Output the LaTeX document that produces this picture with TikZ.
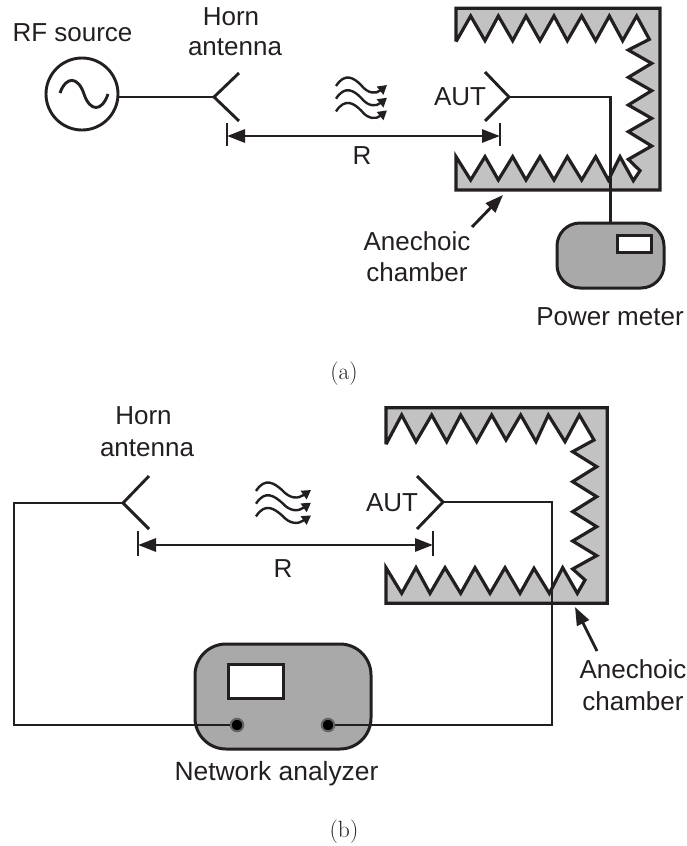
\documentclass[tikz,border=0pt]{standalone}
\usepackage{fontspec}
\setsansfont{Liberation Sans}
\usetikzlibrary{arrows.meta,calc}
\definecolor{ink}{HTML}{231F20}
\definecolor{chgray}{HTML}{C2C2C2}
\definecolor{metergray}{HTML}{A9A9A9}
\tikzset{
  wire/.style={draw=ink,line width=2.9pt,line join=miter},
  horn/.style={wire},
  chamber/.style={draw=ink,fill=chgray,line width=3.2pt,line join=miter,miter limit=4},
  lab/.style={font=\sffamily\fontsize{26}{31}\selectfont,text=ink,anchor=base,inner sep=0pt},
  captxt/.style={font=\fontsize{23.5}{28}\selectfont,text=ink,inner sep=0pt},
  meterbox/.style={draw=ink,fill=metergray,line width=3pt,rounded corners=#1,inner sep=0pt},
  display/.style={draw=ink,fill=white,line width=3pt,inner sep=0pt},
  lead/.style={wire,-{Triangle[length=18pt,width=13pt]}},
  dimline/.style={wire,{Triangle[length=18pt,width=13pt]}-{Triangle[length=18pt,width=13pt]}},
  port/.style={circle,draw=ink!70,fill=black,line width=2pt,minimum size=12.5pt,inner sep=0pt},
  wave/.style={draw=ink,line width=2.4pt,-{Triangle[length=9pt,width=10pt]}},
}
\begin{document}
\begin{tikzpicture}[x=1pt,y=-1pt]
\useasboundingbox (0,0) rectangle (686,846);
% ---------- (a) ----------
\begin{scope}[shift={(430,0)},scale=0.33333]
\draw[chamber] plot coordinates {(78,125)(78,25)(690,25)(690,570)(78,570)(78,470)
 (122,540)(165,470)(205,540)(248,470)(288,540)(330,470)(372,540)(412,470)(455,540)(497,470)(535,540)(570,470)(610,542)(630,512)
 (595,478)(665,438)(595,395)(665,355)(595,315)(665,272)(595,232)(665,190)(595,150)(658,118)
 (620,48)(578,122)(538,48)(497,122)(455,48)(412,122)(372,48)(330,122)(288,48)(248,122)(205,48)(165,122)(122,48)(78,125)};
\end{scope}
\node[circle,draw=ink,line width=2.9pt,minimum size=72pt,inner sep=0pt] (src) at (82,94) {};
\draw[draw=ink,line width=2.9pt] (60,93) .. controls (66,76) and (78,76) .. (84,94) .. controls (90,112) and (102,112) .. (108,94);
\coordinate (h1) at (214,97);
\coordinate (h1a) at (239,73);
\coordinate (h1b) at (239,121);
\draw[horn] (h1a) -- (h1) -- (h1b);
\draw[wire] (src.east |- h1) -- (h1);
\node[lab] (lsrc) at (72.5,41) {RF source};
\node[lab] (lhorn1) at (231,25) {Horn};
\node[lab] (lant1) at (235,55) {antenna};
% waves a
\foreach \d in {0,12.7,25.4}{
  \draw[wave] (336,{86+\d}) .. controls (345,{72+\d}) and (354,{78+\d}) .. (361,{85+\d}) .. controls (368,{94+\d}) and (376,{94+\d}) .. (387,{85+\d});
}
% dimension a
\coordinate (d1t) at (227,123); \coordinate (d1b) at (227,146);
\coordinate (d2t) at (500,123); \coordinate (d2b) at (500,146);
\coordinate (d1) at (227,136); \coordinate (d2) at (500,136);
\draw[wire] (d1t) -- (d1b);
\draw[wire] (d2t) -- (d2b);
\draw[dimline] (d1) -- (d2);
\node[lab] (lr1) at (362,164) {R};
% AUT a
\coordinate (a1) at (509,97);
\coordinate (a1a) at (485,72);
\coordinate (a1b) at (485,121);
\draw[horn] (a1a) -- (a1) -- (a1b);
\node[lab] (laut1) at (460,105) {AUT};
\node[meterbox=23pt,minimum width=107pt,minimum height=65pt] (pm) at (610.5,255.5) {};
\node[display,minimum width=34pt,minimum height=17pt] (pmd) at (634.5,243.5) {};
\draw[wire] (a1) -| (pm.north);
\node[lab] (lpm) at (610,325) {Power meter};
\node[lab] (lac1) at (417,250) {Anechoic};
\node[lab] (lch1) at (417,281) {chamber};
\coordinate (ac1) at (503,195);
\coordinate (ac1s) at (472,227);
\draw[lead] (ac1s) -- (ac1);
\node[captxt] (ca) at (344,374) {(a)};
% ---------- (b) ----------
\begin{scope}[shift={(370,395)},scale=0.33333]
\draw[chamber] plot coordinates {(48,148)(48,38)(712,38)(712,625)(48,625)(48,518)
 (95,595)(138,518)(180,595)(225,518)(272,595)(315,518)(360,595)(405,518)(450,595)(492,520)(538,595)(578,518)(622,595)(645,555)
 (608,522)(680,482)(608,438)(680,395)(608,350)(680,305)(608,260)(680,215)(608,170)(672,135)
 (628,60)(585,140)(535,60)(498,140)(452,60)(408,135)(365,60)(320,140)(272,60)(230,140)(185,60)(138,140)(95,60)(48,148)};
\end{scope}
\coordinate (h2) at (123,503);
\coordinate (h2a) at (149,476);
\coordinate (h2b) at (149,529);
\draw[horn] (h2a) -- (h2) -- (h2b);
\node[lab] (lhorn2) at (143.5,424) {Horn};
\node[lab] (lant2) at (147,456) {antenna};
\coordinate (a2) at (443,502);
\coordinate (a2a) at (417,476);
\coordinate (a2b) at (417,529);
\draw[horn] (a2a) -- (a2) -- (a2b);
\node[lab] (laut2) at (392,511) {AUT};
\foreach \d in {0,12.7,25.4}{
  \draw[wave] (256,{491+\d}) .. controls (265,{477+\d}) and (274,{483+\d}) .. (282,{490+\d}) .. controls (290,{499+\d}) and (298,{499+\d}) .. (311,{490+\d});
}
\coordinate (d3t) at (138,531); \coordinate (d3b) at (138,556);
\coordinate (d4t) at (433,531); \coordinate (d4b) at (433,556);
\coordinate (d3) at (138,545); \coordinate (d4) at (433,545);
\draw[wire] (d3t) -- (d3b);
\draw[wire] (d4t) -- (d4b);
\draw[dimline] (d3) -- (d4);
\node[lab] (lr2) at (283,577) {R};
\node[meterbox=31pt,minimum width=176pt,minimum height=105pt] (na) at (283,696.5) {};
\node[display,minimum width=55pt,minimum height=34pt] (nad) at (255.5,681) {};
\node[port] (p1) at (237,725) {};
\node[port] (p2) at (328,725) {};
\coordinate (lc) at (14,725);
\coordinate (rc) at (552,725);
\draw[wire] (h2) -| (lc) -- (p1.west);
\draw[wire] (a2) -| (rc) -- (p2.east);
\node[lab,font=\sffamily\fontsize{26.4}{31}\selectfont] (lna) at (276.5,780) {Network analyzer};
\node[lab] (lac2) at (633,678) {Anechoic};
\node[lab] (lch2) at (633,710) {chamber};
\coordinate (ac2t) at (575,607);
\coordinate (ac2s) at (597,651);
\draw[lead] (ac2s) -- (ac2t);
\node[captxt] (cb) at (344,832) {(b)};
\end{tikzpicture}
\end{document}
